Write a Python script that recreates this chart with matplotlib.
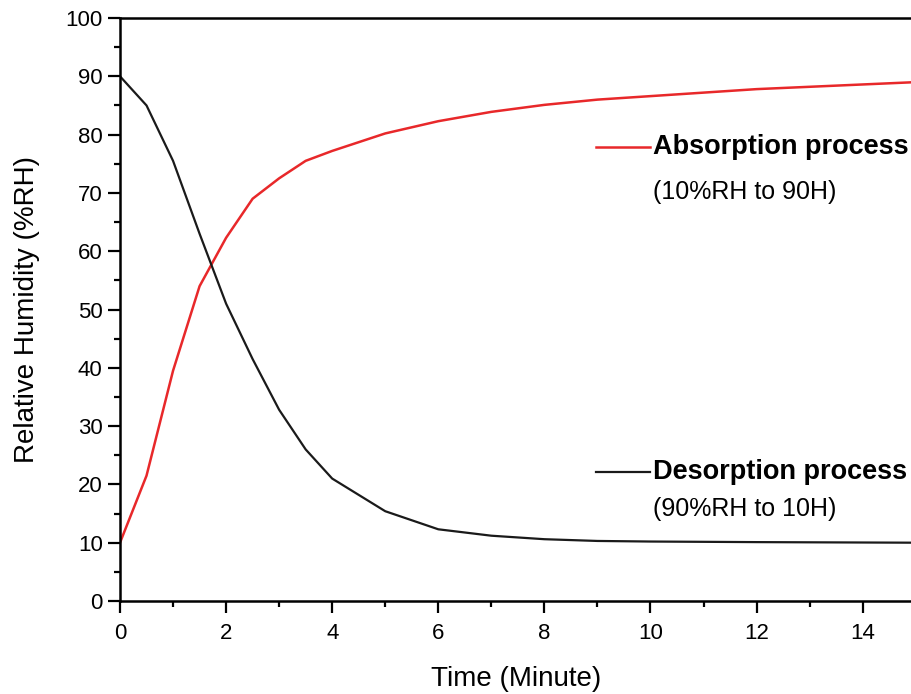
import matplotlib
matplotlib.use("Agg")
import matplotlib.pyplot as plt
from matplotlib.ticker import MultipleLocator

plt.rcParams['font.family'] = ['Liberation Sans', 'DejaVu Sans']

time_abs = [0, 0.5, 1, 1.5, 2, 2.5, 3, 3.5, 4, 5, 6, 7, 8, 9, 10, 11, 12, 13, 14, 15]
rh_abs = [10, 21.5, 39.5, 54, 62.3, 69, 72.5, 75.5, 77.2, 80.2, 82.3, 83.9, 85.1, 86.0, 86.6, 87.2, 87.8, 88.2, 88.6, 89.0]

time_des = [0, 0.5, 1, 1.5, 2, 2.5, 3, 3.5, 4, 5, 6, 7, 8, 9, 10, 12, 15]
rh_des = [90, 85, 75.5, 63, 51, 41.5, 32.8, 26, 21, 15.4, 12.3, 11.2, 10.6, 10.3, 10.2, 10.1, 10.0]

x_ticks = [0, 2, 4, 6, 8, 10, 12, 14]
y_ticks = [0, 10, 20, 30, 40, 50, 60, 70, 80, 90, 100]

fig = plt.figure(figsize=(9.12, 6.94), dpi=100)
ax = fig.add_axes([120/912, 1-601/694, 1-120/912, (601-18)/694])

ax.plot(time_abs, rh_abs, color='#e8282a', lw=1.8)
ax.plot(time_des, rh_des, color='#1a1a1a', lw=1.6)

ax.set_xlim(0, 14.93)
ax.set_ylim(0, 100)
ax.set_xticks(x_ticks)
ax.set_yticks(y_ticks)
ax.xaxis.set_minor_locator(MultipleLocator(1))
ax.yaxis.set_minor_locator(MultipleLocator(5))
ax.tick_params(which='major', direction='out', length=8.5, width=1.6, labelsize=16, pad=4)
ax.tick_params(axis='x', which='major', pad=7)
ax.tick_params(which='minor', direction='out', length=4, width=1.6)
for s in ['left', 'bottom', 'top']:
    ax.spines[s].set_linewidth(1.8)
ax.spines['right'].set_visible(False)

ax.set_xlabel('Time (Minute)', fontsize=20, labelpad=16)
ax.set_ylabel('Relative Humidity (%RH)', fontsize=20, labelpad=18)

# In-plot legend annotations
ax.plot([8.97, 10.0], [77.8, 77.8], color='#e8282a', lw=1.8)
ax.text(10.05, 77.8, 'Absorption process', fontsize=19.5, fontweight='bold', va='center', ha='left')
ax.text(10.05, 70.2, '(10%RH to 90H)', fontsize=18, va='center', ha='left')

ax.plot([8.97, 10.0], [22.1, 22.1], color='#1a1a1a', lw=1.6)
ax.text(10.05, 22.1, 'Desorption process', fontsize=19.5, fontweight='bold', va='center', ha='left')
ax.text(10.05, 15.8, '(90%RH to 10H)', fontsize=18, va='center', ha='left')

fig.savefig('out.png', dpi=100)
